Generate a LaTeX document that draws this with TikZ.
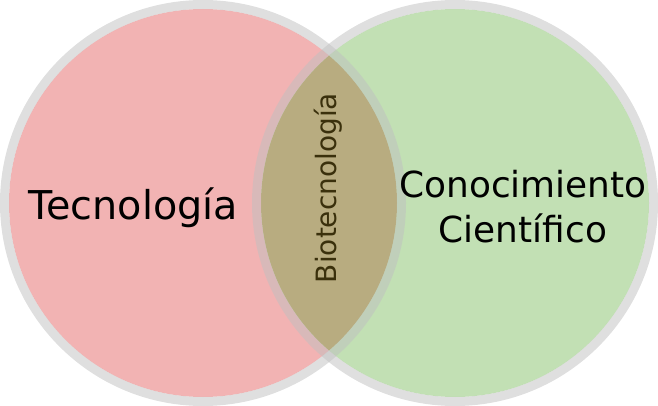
\documentclass[tikz,border=0pt]{standalone}
\usepackage{fontspec}
\setmainfont{DejaVu Sans}
\usepackage{tikz}
\usepackage{xcolor}
\definecolor{tecred}{RGB}{242,179,179}
\definecolor{ciegreen}{RGB}{194,224,180}
\definecolor{biobrown}{RGB}{184,172,128}
\definecolor{biotext}{RGB}{58,48,12}
\definecolor{ringgray}{RGB}{192,192,192}
\tikzset{
  ring/.style={draw=ringgray, draw opacity=0.5, line width=9pt},
}

\begin{document}
\begin{tikzpicture}[x=1pt, y=-1pt]
  \useasboundingbox (0,0) rectangle (658,406);
  \coordinate (T) at (203,203);
  \coordinate (C) at (455,203);

  \fill[tecred] (T) circle[radius=194pt];
  \fill[ciegreen] (C) circle[radius=194pt];
  \begin{scope}
    \clip (T) circle[radius=194pt];
    \fill[biobrown] (C) circle[radius=194pt];
  \end{scope}
  \draw[ring] (T) circle[radius=198.5pt];
  \draw[ring] (C) circle[radius=198.5pt];

  \node[anchor=base, font=\fontsize{39.7}{46}\selectfont] (tec) at (133.5,219) {Tecnología};
  \node[anchor=base, align=center, font=\fontsize{35.9}{45}\selectfont] (cie) at (523,242) {Conocimiento\\ Científico};
  \node[anchor=base, rotate=90, text=biotext, font=\fontsize{28}{32}\selectfont] (bio) at (336,188) {Biotecnología};
\end{tikzpicture}
\end{document}
